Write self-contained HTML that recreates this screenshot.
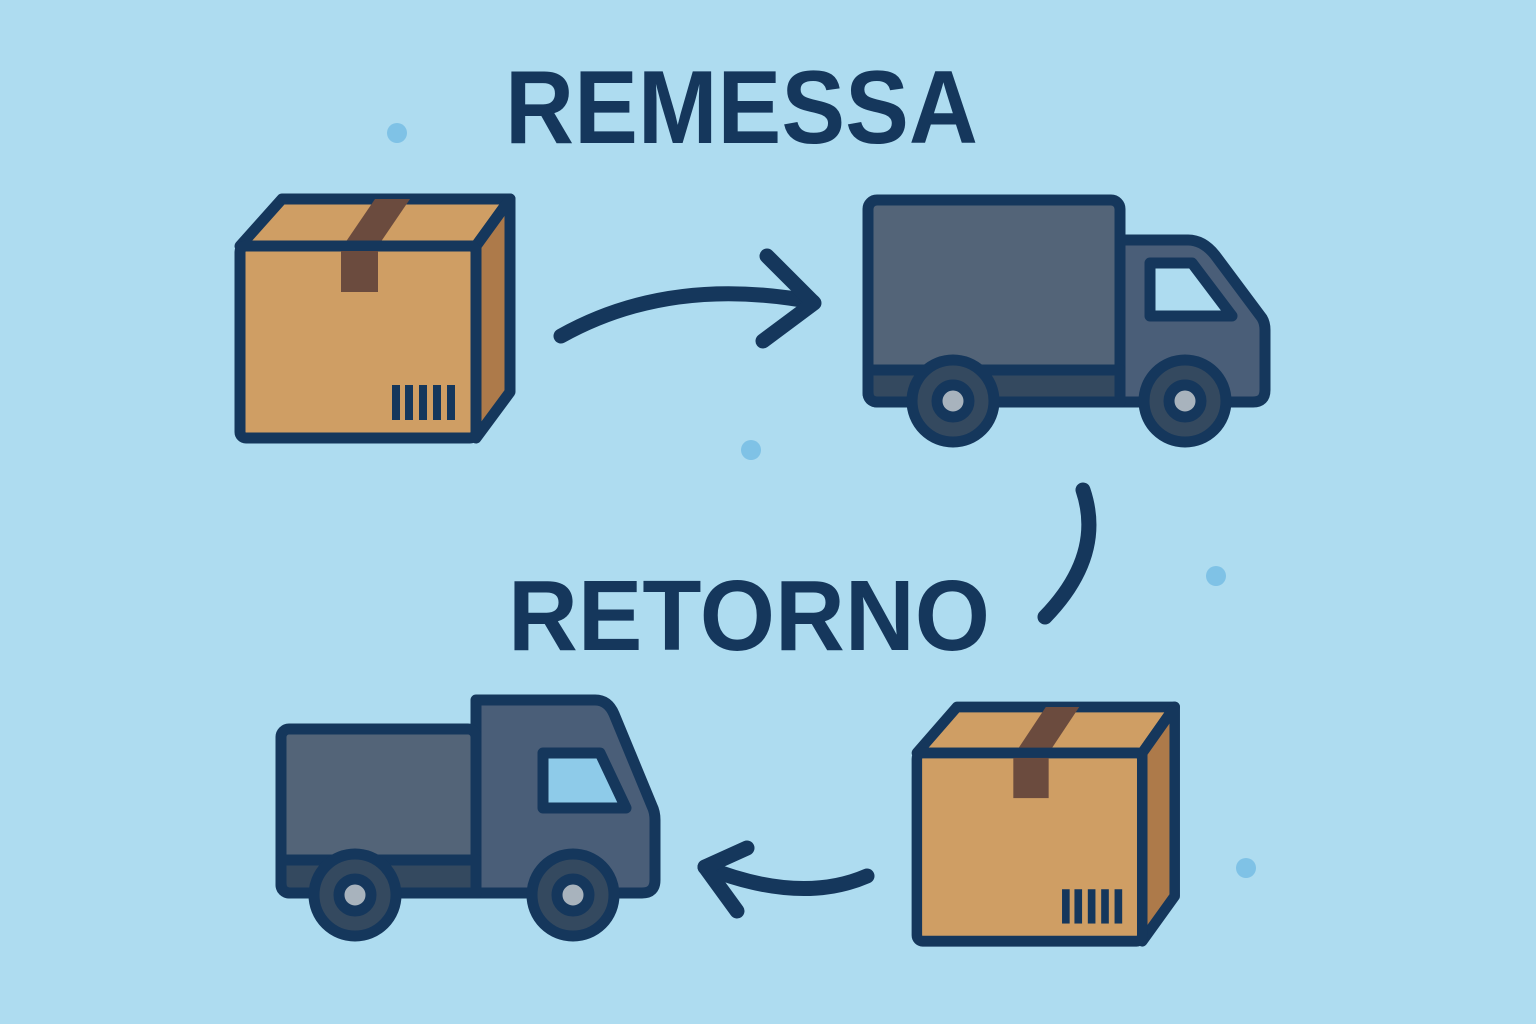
<!DOCTYPE html>
<html><head><meta charset="utf-8"><style>html,body{margin:0;padding:0;background:#aedcf0}svg{display:block}</style></head>
<body>
<svg width="1536" height="1024" viewBox="0 0 1536 1024" xmlns="http://www.w3.org/2000/svg">
<rect width="1536" height="1024" fill="#aedcf0"/>
<defs>
<g id="box" stroke="#15375c" stroke-width="11" stroke-linejoin="round" stroke-linecap="round">
  <polygon points="240,246 282,199 510,199 476,246" fill="#cf9e64"/>
  <polygon points="476,246 510,199 510,392 476,438" fill="#ad7a4a"/>
  <polygon points="343,246 375,199 410,199 378,246" fill="#6b4b3e" stroke="none"/>
  <rect x="240" y="246" width="236" height="192" rx="6" fill="#cf9e64"/>
  <rect x="341" y="251" width="37" height="41" fill="#6b4b3e" stroke="none"/>
  <g fill="#15375c" stroke="none">
    <rect x="392" y="385" width="8" height="35"/><rect x="405" y="385" width="8" height="35"/>
    <rect x="419" y="385" width="8" height="35"/><rect x="433" y="385" width="8" height="35"/>
    <rect x="447" y="385" width="8" height="35"/>
  </g>
</g>
</defs>
<g fill="#7fc2e6">
<circle cx="397" cy="133" r="10"/><circle cx="751" cy="450" r="10"/>
<circle cx="1216" cy="576" r="10"/><circle cx="1246" cy="868" r="10"/>
</g>
<g font-family="Liberation Sans, sans-serif" font-weight="bold" fill="#15375c">
<text x="505" y="143" font-size="104" textLength="473" lengthAdjust="spacingAndGlyphs">REMESSA</text>
<text x="508" y="650" font-size="100" textLength="482" lengthAdjust="spacingAndGlyphs">RETORNO</text>
</g>
<use href="#box"/>
<use href="#box" transform="translate(914,705) scale(0.955,0.98) translate(-237,-197)"/>
<g stroke="#15375c" stroke-width="11" stroke-linejoin="round">
  <path d="M1120,240 L1188,240 Q1203,240 1215,255 L1262,318 Q1265,323 1265,330 L1265,390 Q1265,402 1253,402 L1120,402 Z" fill="#4a5e78"/>
  <rect x="868" y="200" width="252" height="202" rx="9" fill="#536478"/>
  <path d="M868,370 L1120,370 L1120,402 L878,402 Q868,402 868,392 Z" fill="#34495f"/>
  <path d="M1150,263 L1192,263 L1232,316 L1150,316 Z" fill="#aedcf0"/>
  <circle cx="953" cy="401" r="41" fill="#34495f"/>
  <circle cx="953" cy="401" r="16" fill="#a8b3bd"/>
  <circle cx="1185" cy="401" r="41" fill="#34495f"/>
  <circle cx="1185" cy="401" r="16" fill="#a8b3bd"/>
</g>
<g stroke="#15375c" stroke-width="11" stroke-linejoin="round">
  <path d="M476,700 L595,700 Q608,700 614,714 L652,806 Q655,812 655,820 L655,880 Q655,893 642,893 L476,893 Z" fill="#4a5e78"/>
  <rect x="281" y="729" width="195" height="164" rx="8" fill="#536478"/>
  <path d="M281,860 L476,860 L476,893 L291,893 Q281,893 281,883 Z" fill="#34495f"/>
  <path d="M543,753 L600,753 L626,808 L543,808 Z" fill="#8ecbe9"/>
  <circle cx="355" cy="895" r="41" fill="#34495f"/>
  <circle cx="355" cy="895" r="16" fill="#a8b3bd"/>
  <circle cx="573" cy="895" r="41" fill="#34495f"/>
  <circle cx="573" cy="895" r="16" fill="#a8b3bd"/>
</g>
<g fill="none" stroke="#15375c" stroke-width="15" stroke-linecap="round" stroke-linejoin="round">
  <path d="M561,336 Q670,275 813,302"/>
  <path d="M767,256 L814,303 L763,341"/>
  <path d="M1083,490 Q1105,555 1045,617"/>
  <path d="M867,876 Q800,905 705,867"/>
  <path d="M747,848 L705,867 L737,911"/>
</g>
</svg>
</body></html>
